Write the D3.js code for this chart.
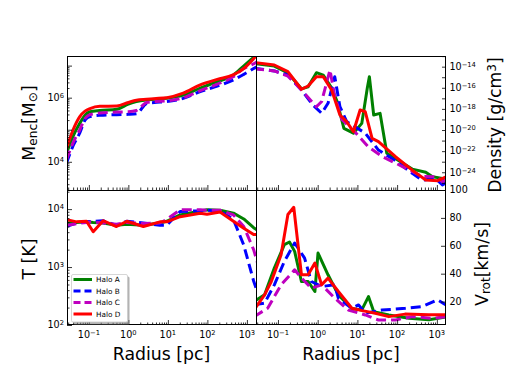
<!DOCTYPE html>
<html><head><meta charset="utf-8">
<script src="https://cdn.jsdelivr.net/npm/d3@7"></script>
<style>body{margin:0;background:#fff} svg{display:block} text{font-family:"DejaVu Sans",sans-serif;fill:#000}</style>
</head><body><svg id="c" width="512" height="384"></svg>
<script>
// ---------------- data ----------------
const haloNames = ["Halo A", "Halo B", "Halo C", "Halo D"];
const haloColors = ["#008000", "#0000ff", "#bf00bf", "#ff0000"];
const haloDashed = [false, true, true, false];

const xTickLabels = ["10^−1", "10^0", "10^1", "10^2", "10^3"];
const mencTickLabels = ["10^4", "10^6"];
const densTickLabels = ["10^−14", "10^−16", "10^−18", "10^−20", "10^−22", "10^−24"];
const tempTickLabels = ["10^2", "10^3", "10^4"];
const vrotTicks = [20, 40, 60, 80, 100];

// Enclosed mass, log10(M/Msun), shared radius grid (pc)
const mencR = [0.027, 0.04, 0.059, 0.08, 0.107, 0.19, 0.51, 1.0, 1.6, 2.9, 4.5, 9.5, 24.5, 66, 178, 447, 813, 1445, 2000];
const mencA = [4.25, 4.8, 5.2, 5.45, 5.56, 5.60, 5.64, 5.80, 5.88, 5.93, 5.95, 5.98, 6.08, 6.30, 6.50, 6.70, 6.98, 7.25, 7.4];
const mencB = [3.95, 4.5, 4.9, 5.3, 5.41, 5.45, 5.47, 5.48, 5.50, 5.82, 5.85, 5.88, 5.98, 6.19, 6.36, 6.55, 6.72, 6.90, 7.0];
const mencC = [4.05, 4.6, 5.0, 5.35, 5.47, 5.52, 5.55, 5.56, 5.60, 5.85, 5.88, 5.90, 6.0, 6.22, 6.42, 6.65, 6.90, 7.05, 7.15];
const mencD = [4.4, 5.0, 5.41, 5.58, 5.66, 5.73, 5.74, 5.85, 5.92, 5.95, 5.97, 6.0, 6.14, 6.40, 6.57, 6.71, 6.90, 7.2, 7.4];

// Density, log10(rho / g cm^-3)
const densRA = [0.025, 0.081, 0.178, 0.39, 0.575, 0.93, 1.38, 2.24, 3.09, 4.57, 7.94, 12.9, 17.8, 20, 25.7, 37.2, 55, 240, 525, 776, 1380, 1700];
const densA = [-13.7, -13.95, -14.6, -16.1, -15.9, -14.57, -14.8, -16.0, -17.3, -19.84, -20.3, -19.37, -16.0, -14.95, -18.58, -18.42, -22.2, -23.7, -24.0, -24.43, -24.58, -24.6];
const densRB = [0.025, 0.081, 0.178, 0.39, 0.76, 1.26, 1.82, 2.69, 3.63, 5.37, 8.7, 15.8, 33.9, 91, 240, 427, 933, 1380, 1700];
const densB = [-14.15, -14.4, -14.79, -16.2, -17.63, -18.42, -17.47, -14.95, -17.79, -19.2, -19.69, -20.3, -21.9, -22.9, -24.1, -24.74, -24.6, -25.2, -25.0];
const densRC = [0.025, 0.081, 0.178, 0.39, 0.93, 1.26, 2.04, 2.69, 4.07, 8.7, 19, 41.7, 162, 427, 1000, 1380, 1700];
const densC = [-14.2, -14.4, -14.9, -16.2, -17.8, -17.3, -14.3, -16.8, -19.0, -20.2, -21.6, -22.5, -23.6, -24.4, -24.43, -24.9, -24.7];
const densRD = [0.025, 0.081, 0.178, 0.39, 0.575, 0.93, 1.38, 2.24, 3.63, 5.37, 7.94, 11.7, 15.8, 23.4, 33.9, 91, 240, 525, 1047, 1700];
const densD = [-13.6, -13.84, -14.47, -16.14, -15.83, -14.95, -14.95, -16.2, -18.58, -19.2, -20.16, -18.1, -18.27, -20.79, -21.1, -22.53, -23.8, -24.74, -24.8, -24.43];

// Temperature, log10(T/K), shared radius grid (pc)
const tempR = [0.027, 0.049, 0.087, 0.129, 0.229, 0.5, 0.91, 2.4, 6.3, 9.3, 20.4, 66, 98, 209, 457, 832, 1480, 2000];
const tempA = [3.76, 3.77, 3.78, 3.77, 3.76, 3.72, 3.74, 3.72, 3.76, 3.79, 3.90, 3.97, 3.99, 3.98, 3.93, 3.83, 3.68, 3.62];
const tempB = [3.70, 3.76, 3.78, 3.79, 3.80, 3.72, 3.79, 3.76, 3.72, 3.72, 3.96, 3.97, 3.98, 3.97, 3.82, 3.38, 2.76, 2.5];
const tempC = [3.72, 3.75, 3.77, 3.78, 3.76, 3.74, 3.77, 3.75, 3.76, 3.82, 3.99, 3.99, 3.98, 3.98, 3.90, 3.70, 3.30, 3.0];
const tempD = [3.82, 3.78, 3.79, 3.61, 3.80, 3.70, 3.79, 3.70, 3.78, 3.78, 3.87, 3.93, 3.91, 3.95, 3.79, 3.67, 3.56, 3.56];

// Rotational velocity, km/s
const vrotRA = [0.025, 0.046, 0.081, 0.145, 0.195, 0.263, 0.39, 0.575, 0.85, 1.02, 1.82, 3.31, 7.24, 12.9, 19, 25.7, 61.7, 200, 631, 1700];
const vrotA = [20, 24.8, 44, 60.8, 62.7, 56, 34.4, 34.4, 27.2, 54.8, 39.2, 24.8, 15, 14, 23.6, 12.8, 10.4, 8, 7, 9];
const vrotRB = [0.025, 0.046, 0.081, 0.145, 0.263, 0.468, 0.69, 1.26, 2.69, 3.31, 7.24, 10.7, 15.8, 41.7, 162, 427, 1047, 1700];
const vrotB = [17.6, 18.8, 32, 48.8, 62, 51.2, 34.4, 30.8, 32, 22.4, 15.2, 17.6, 11.6, 13.9, 15.2, 16.4, 21.2, 17.6];
const vrotRC = [0.025, 0.055, 0.12, 0.263, 0.39, 0.69, 1.26, 2.69, 5.9, 15.8, 33.9, 91, 240, 776, 1700];
const vrotC = [9.2, 15.2, 32, 42.8, 37, 29.6, 32, 22.4, 14, 10.4, 6.8, 6.8, 9.2, 8, 9.2];
const vrotRD = [0.025, 0.046, 0.068, 0.12, 0.178, 0.25, 0.39, 0.575, 0.85, 1.26, 1.82, 3.31, 7.24, 13.2, 28.2, 61.7, 158, 631, 1700];
const vrotD = [14, 24.8, 34.4, 53.6, 82.4, 87.6, 39.2, 39.2, 47.6, 32, 36.8, 27.2, 15.2, 13.5, 11.6, 9.2, 11, 10.5, 10.5];

// ---------------- layout ----------------
const X0 = 67, XM = 256, X1 = 446, Y0 = 56, YM = 190, Y1 = 325;
const rDomain = [0.028, 1700];
const xL = d3.scaleLog().domain(rDomain).range([X0, XM]);
const xR = d3.scaleLog().domain(rDomain).range([XM, X1]);
const yM = d3.scaleLog().domain([Math.pow(10, 3.12), Math.pow(10, 7.30)]).range([YM, Y0]);
const yD = d3.scaleLog().domain([Math.pow(10, -25.68), Math.pow(10, -12.99)]).range([YM, Y0]);
const yT = d3.scaleLog().domain([100, Math.pow(10, 4.33)]).range([Y1, YM]);
const yV = d3.scaleLinear().domain([3.2, 100]).range([Y1, YM]);

const svg = d3.select("#c");
const defs = svg.append("defs");

function pow10(v) { return Math.pow(10, v); }

const panels = [
  { id: "tl", x: xL, y: yM, box: [X0, Y0, XM, YM], curve: d3.curveMonotoneX,
    series: [[mencR, mencA, pow10], [mencR, mencB, pow10], [mencR, mencC, pow10], [mencR, mencD, pow10]] },
  { id: "tr", x: xR, y: yD, box: [XM, Y0, X1, YM], curve: d3.curveLinear,
    series: [[densRA, densA, pow10], [densRB, densB, pow10], [densRC, densC, pow10], [densRD, densD, pow10]] },
  { id: "bl", x: xL, y: yT, box: [X0, YM, XM, Y1], curve: d3.curveLinear,
    series: [[tempR, tempA, pow10], [tempR, tempB, pow10], [tempR, tempC, pow10], [tempR, tempD, pow10]] },
  { id: "br", x: xR, y: yV, box: [XM, YM, X1, Y1], curve: d3.curveLinear,
    series: [[vrotRA, vrotA, v => v], [vrotRB, vrotB, v => v], [vrotRC, vrotC, v => v], [vrotRD, vrotD, v => v]] }
];

panels.forEach(p => {
  const [a, b, c, d] = p.box;
  defs.append("clipPath").attr("id", "clip-" + p.id)
    .append("rect").attr("x", a).attr("y", b).attr("width", c - a).attr("height", d - b);
  const g = svg.append("g").attr("clip-path", "url(#clip-" + p.id + ")");
  p.series.forEach((s, i) => {
    const [rs, vs, f] = s;
    const pts = rs.map((r, k) => [r, f(vs[k])]);
    const line = d3.line().x(q => p.x(q[0])).y(q => p.y(q[1])).curve(p.curve);
    g.append("path").datum(pts).attr("d", line)
      .attr("fill", "none").attr("stroke", haloColors[i]).attr("stroke-width", 3)
      .attr("stroke-linejoin", "round")
      .attr("stroke-dasharray", haloDashed[i] ? "10,5" : null);
  });
});

// ---------------- ticks ----------------
function logMajorsMinors(scale) {
  const [lo, hi] = scale.domain().slice().sort((u, v) => u - v);
  const majors = [], minors = [];
  for (let k = Math.floor(Math.log10(lo)) - 1; k <= Math.ceil(Math.log10(hi)); k++) {
    const base = Math.pow(10, k);
    if (base >= lo && base <= hi) majors.push(base);
    for (let m = 2; m <= 9; m++) { const v = m * base; if (v >= lo && v <= hi) minors.push(v); }
  }
  return { majors, minors };
}

function styleAxis(sel) {
  sel.select(".domain").remove();
  sel.selectAll("line").attr("stroke", "#000").attr("stroke-width", 0.8);
  sel.selectAll("text").remove();
}

function supLabel(sel, label, size) {
  const parts = label.split("^");
  sel.append("tspan").text(parts[0]);
  if (parts.length > 1) sel.append("tspan").attr("dy", "-0.45em").attr("font-size", (size * 0.7) + "px").text(parts[1]);
}

// x axes (bottom of all four panels, ticks inside)
[[xL, YM, false], [xR, YM, false], [xL, Y1, true], [xR, Y1, true]].forEach(([sc, yb, lab]) => {
  const t = logMajorsMinors(sc);
  svg.append("g").attr("transform", `translate(0,${yb})`)
    .call(d3.axisBottom(sc).tickValues(t.majors).tickSizeInner(-5).tickSizeOuter(0)).call(styleAxis);
  svg.append("g").attr("transform", `translate(0,${yb})`)
    .call(d3.axisBottom(sc).tickValues(t.minors).tickSizeInner(-2.5).tickSizeOuter(0)).call(styleAxis);
  if (lab) {
    const vals = [0.1, 1, 10, 100, 1000];
    vals.forEach((v, i) => {
      const tx = svg.append("text").attr("x", sc(v)).attr("y", yb + 13.3)
        .attr("text-anchor", "middle").attr("font-size", "9.6px");
      supLabel(tx, xTickLabels[i], 9.6);
    });
  }
});

// top-left: Menc (log)
(function () {
  const t = logMajorsMinors(yM);
  svg.append("g").attr("transform", `translate(${X0},0)`)
    .call(d3.axisLeft(yM).tickValues(t.majors).tickSizeInner(-5).tickSizeOuter(0)).call(styleAxis);
  svg.append("g").attr("transform", `translate(${X0},0)`)
    .call(d3.axisLeft(yM).tickValues(t.minors).tickSizeInner(-2.5).tickSizeOuter(0)).call(styleAxis);
  [1e4, 1e6].forEach((v, i) => {
    const tx = svg.append("text").attr("x", X0 - 3).attr("y", yM(v) + 3.3)
      .attr("text-anchor", "end").attr("font-size", "9.6px");
    supLabel(tx, mencTickLabels[i], 9.6);
  });
})();

// bottom-left: T (log)
(function () {
  const t = logMajorsMinors(yT);
  svg.append("g").attr("transform", `translate(${X0},0)`)
    .call(d3.axisLeft(yT).tickValues(t.majors).tickSizeInner(-5).tickSizeOuter(0)).call(styleAxis);
  svg.append("g").attr("transform", `translate(${X0},0)`)
    .call(d3.axisLeft(yT).tickValues(t.minors).tickSizeInner(-2.5).tickSizeOuter(0)).call(styleAxis);
  [1e2, 1e3, 1e4].forEach((v, i) => {
    const tx = svg.append("text").attr("x", X0 - 3).attr("y", yT(v) + 3.3)
      .attr("text-anchor", "end").attr("font-size", "9.6px");
    supLabel(tx, tempTickLabels[i], 9.6);
  });
})();

// top-right: density (log), ticks every decade, labels every 2
(function () {
  const t = logMajorsMinors(yD);
  svg.append("g").attr("transform", `translate(${X1},0)`)
    .call(d3.axisRight(yD).tickValues(t.majors).tickSizeInner(-4).tickSizeOuter(0)).call(styleAxis);
  [-14, -16, -18, -20, -22, -24].forEach((e, i) => {
    const tx = svg.append("text").attr("x", X1 + 3.5).attr("y", yD(Math.pow(10, e)) + 3.3)
      .attr("text-anchor", "start").attr("font-size", "9.6px");
    supLabel(tx, densTickLabels[i], 9.6);
  });
})();

// bottom-right: Vrot (linear)
(function () {
  svg.append("g").attr("transform", `translate(${X1},0)`)
    .call(d3.axisRight(yV).tickValues(vrotTicks).tickSizeInner(-5).tickSizeOuter(0)).call(styleAxis);
  vrotTicks.forEach(v => {
    svg.append("text").attr("x", X1 + 3.5).attr("y", yV(v) + 3.3)
      .attr("text-anchor", "start").attr("font-size", "9.6px").text(v);
  });
})();

// frames
const fr = svg.append("g").attr("fill", "none").attr("stroke", "#000").attr("stroke-width", 1)
  .attr("shape-rendering", "crispEdges");
fr.append("rect").attr("x", X0 + 0.5).attr("y", Y0 + 0.5).attr("width", X1 - X0 - 1).attr("height", Y1 - Y0 - 1);
fr.append("line").attr("x1", XM + 0.5).attr("x2", XM + 0.5).attr("y1", Y0).attr("y2", Y1);
fr.append("line").attr("x1", X0).attr("x2", X1).attr("y1", YM + 0.5).attr("y2", YM + 0.5);

// ---------------- axis titles ----------------
const TF = 17.3;
function rotTitle(x, y) {
  return svg.append("text").attr("transform", `translate(${x},${y}) rotate(-90)`)
    .attr("text-anchor", "middle").attr("font-size", TF + "px");
}
let t1 = rotTitle(35, 123);
t1.append("tspan").text("M");
t1.append("tspan").attr("font-size", (TF * 0.7) + "px").attr("dy", "0.2em").text("enc");
t1.append("tspan").attr("dy", "-0.14em").text("[M");
t1.append("tspan").attr("font-size", (TF * 0.7) + "px").attr("dy", "0.2em").text("⊙");
t1.append("tspan").attr("dy", "-0.14em").text("]");

rotTitle(35, 259).text("T [K]");

let t3 = rotTitle(501, 125);
t3.append("tspan").text("Density [g/cm");
t3.append("tspan").attr("font-size", (TF * 0.7) + "px").attr("dy", "-0.45em").text("3");
t3.append("tspan").attr("dy", "0.31em").text("]");

let t4 = rotTitle(488, 264);
t4.append("tspan").text("V");
t4.append("tspan").attr("font-size", (TF * 0.7) + "px").attr("dy", "0.2em").text("rot");
t4.append("tspan").attr("dy", "-0.14em").text("[km/s]");

svg.append("text").attr("x", (X0 + XM) / 2).attr("y", 360).attr("text-anchor", "middle")
  .attr("font-size", TF + "px").text("Radius [pc]");
svg.append("text").attr("x", (XM + X1) / 2).attr("y", 360).attr("text-anchor", "middle")
  .attr("font-size", TF + "px").text("Radius [pc]");

// ---------------- legend ----------------
const lg = svg.append("g");
lg.append("rect").attr("x", 73.5).attr("y", 276.5).attr("width", 56).attr("height", 48)
  .attr("rx", 1.5).attr("fill", "#808080").attr("opacity", 0.6);
lg.append("rect").attr("x", 71.5).attr("y", 274.5).attr("width", 56).attr("height", 47.5)
  .attr("rx", 1.5).attr("fill", "#fff").attr("stroke", "#ccc").attr("stroke-width", 0.8);
haloNames.forEach((n, i) => {
  const yy = 279.5 + i * 11.5;
  lg.append("line").attr("x1", 73.5).attr("x2", 92).attr("y1", yy).attr("y2", yy)
    .attr("stroke", haloColors[i]).attr("stroke-width", 3)
    .attr("stroke-dasharray", haloDashed[i] ? "7,4" : null);
  lg.append("text").attr("x", 96).attr("y", yy + 2.6).attr("font-size", "7.3px").text(n);
});
</script>
</body></html>
